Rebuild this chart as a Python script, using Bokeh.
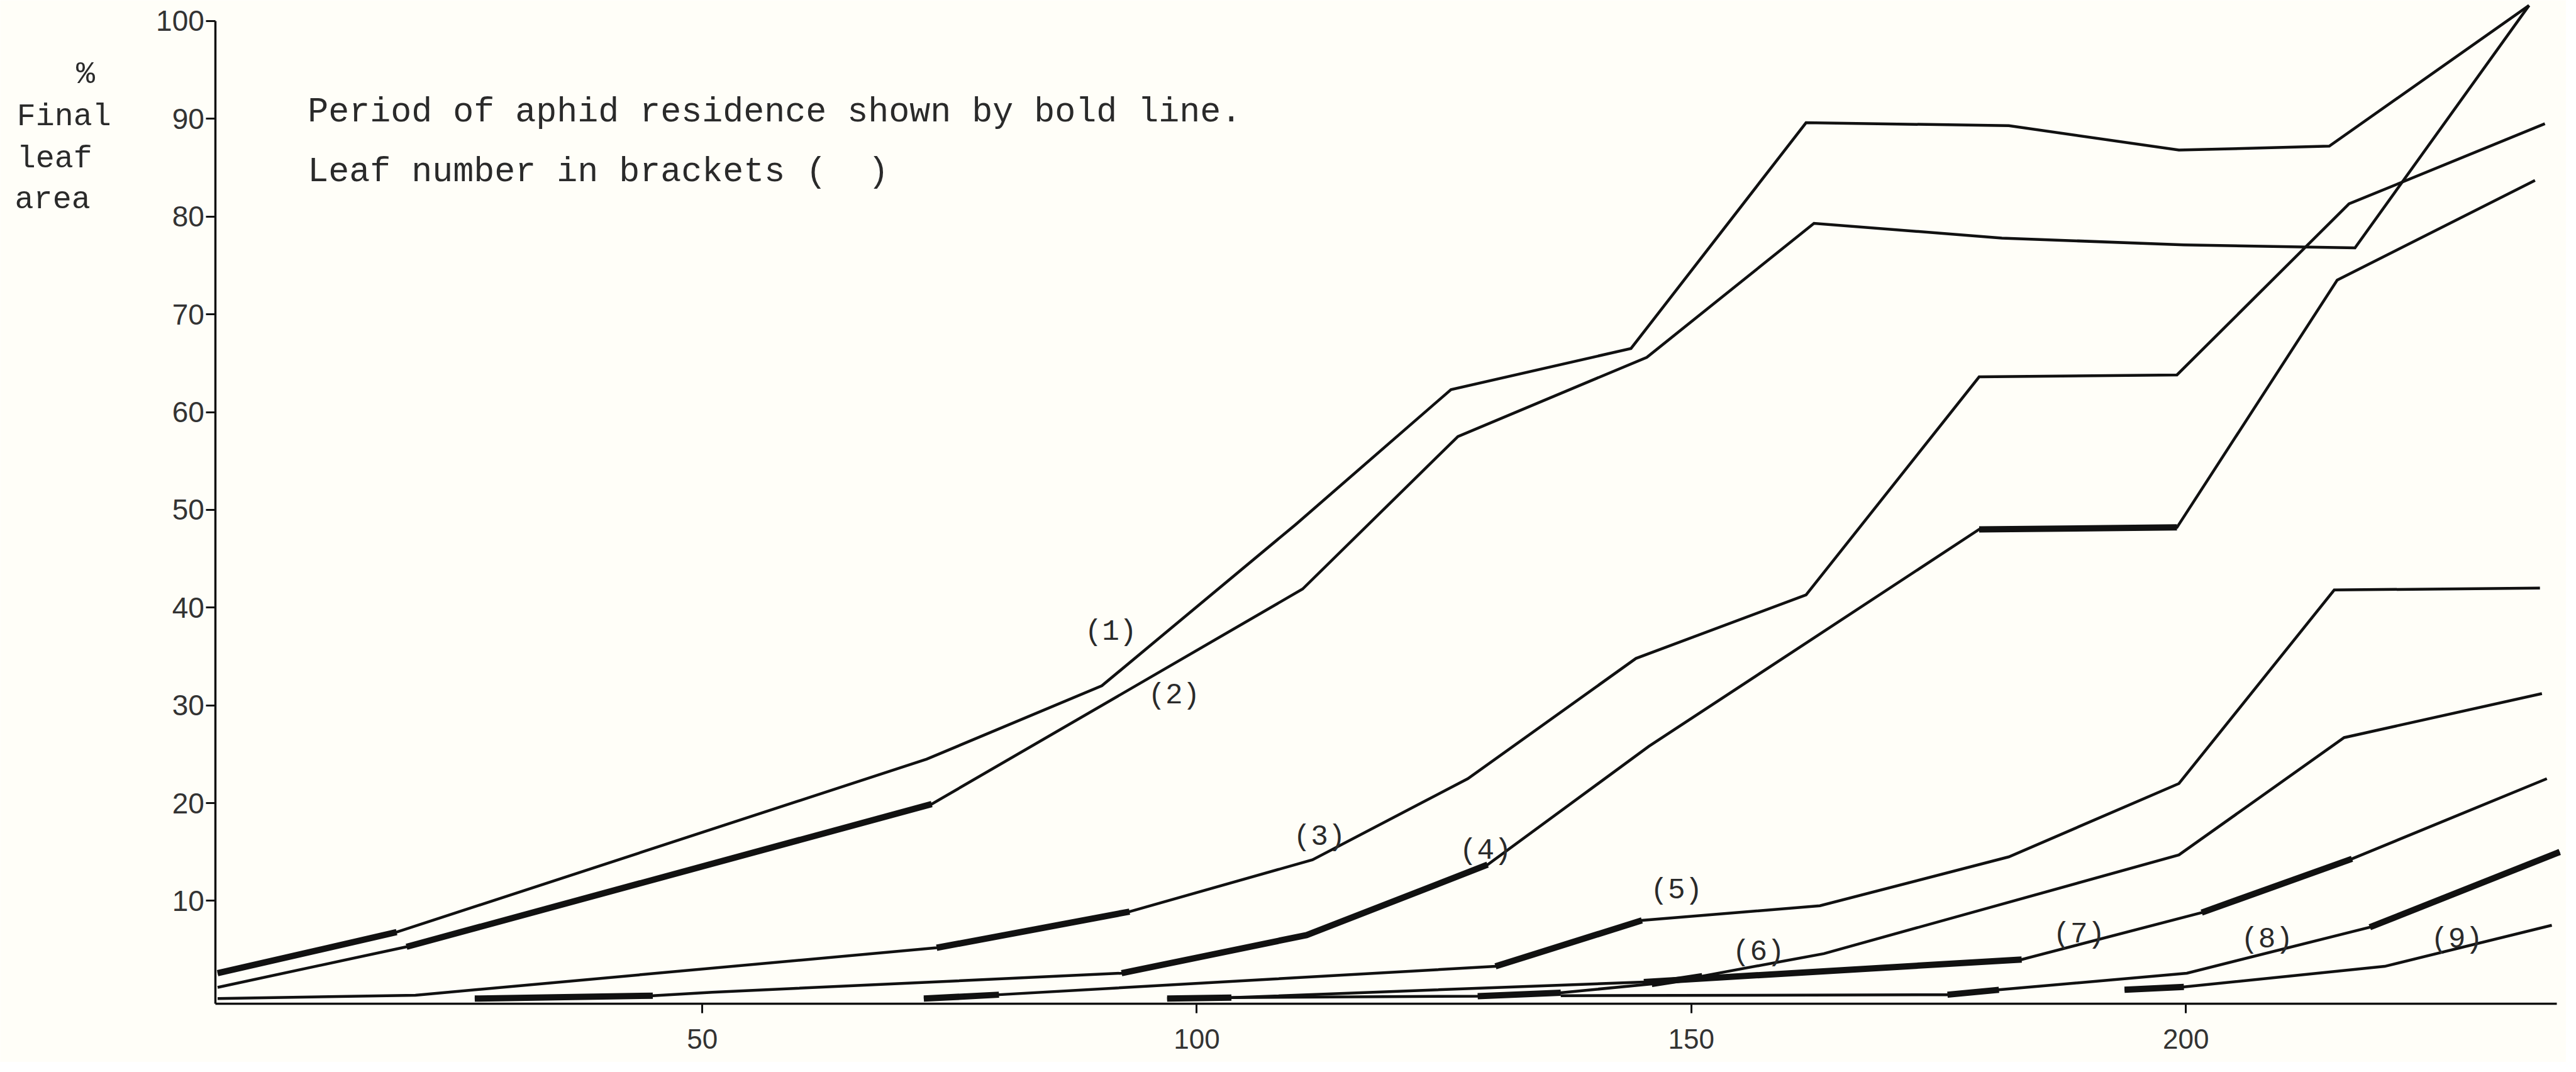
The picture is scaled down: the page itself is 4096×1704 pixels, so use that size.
from bokeh.plotting import figure
from bokeh.models import FixedTicker, Label
from bokeh.core.properties import value
from bokeh.embed import file_html
from bokeh.resources import INLINE

# ---- data (days on x, % of final leaf area on y) ----
leaf1_day = [1.0, 19.1, 72.7, 90.4, 110.0, 125.7, 143.9, 161.6, 182.1, 199.3, 214.5, 234.7]
leaf1_pct = [2.6, 6.8, 24.5, 32.0, 48.5, 62.3, 66.5, 89.6, 89.3, 86.8, 87.2, 101.6]
leaf1_bold = [(0, 1)]

leaf2_day = [1.0, 20.1, 73.2, 110.7, 126.4, 145.5, 162.4, 181.4, 199.8, 217.1, 234.7]
leaf2_pct = [1.15, 5.3, 19.9, 41.9, 57.5, 65.6, 79.3, 77.8, 77.1, 76.8, 101.6]
leaf2_bold = [(1, 2)]

leaf3_day = [1.0, 21.0, 73.7, 93.2, 111.7, 127.4, 144.4, 161.6, 179.1, 199.1, 216.5, 236.3]
leaf3_pct = [0.0, 0.35, 5.2, 8.9, 14.2, 22.5, 34.8, 41.3, 63.6, 63.8, 81.3, 89.5]
leaf3_bold = [(2, 3)]

leaf4_day = [27.0, 45.0, 51.0, 92.4, 111.1, 129.4, 145.7, 179.1, 199.1, 215.3, 235.3]
leaf4_pct = [0.0, 0.3, 0.65, 2.6, 6.5, 13.7, 25.8, 48.0, 48.2, 73.5, 83.7]
leaf4_bold = [(0, 1), (3, 5), (7, 8)]

leaf5_day = [72.4, 80.0, 107.7, 130.2, 145.0, 163.0, 182.1, 199.3, 215.0, 235.8]
leaf5_pct = [0.0, 0.4, 2.0, 3.3, 8.0, 9.5, 14.5, 22.0, 41.8, 42.0]
leaf5_bold = [(0, 1), (3, 4)]

leaf6_day = [97.0, 103.5, 128.4, 136.8, 146.0, 151.1, 163.4, 199.3, 216.0, 236.0]
leaf6_pct = [0.0, 0.1, 0.25, 0.6, 1.5, 2.3, 4.6, 14.7, 26.7, 31.2]
leaf6_bold = [(0, 1), (2, 3), (4, 5)]

leaf7_day = [103.5, 145.2, 183.4, 201.6, 216.8, 236.5]
leaf7_pct = [0.1, 1.7, 4.0, 8.8, 14.3, 22.5]
leaf7_bold = [(1, 2), (3, 4)]

leaf8_day = [136.8, 175.9, 181.1, 200.1, 218.6, 237.8]
leaf8_pct = [0.3, 0.4, 0.9, 2.6, 7.3, 15.0]
leaf8_bold = [(1, 2), (4, 5)]

leaf9_day = [193.8, 199.8, 220.1, 237.0]
leaf9_pct = [0.9, 1.2, 3.3, 7.5]
leaf9_bold = [(0, 1)]

leaf_labels = ["(1)", "(2)", "(3)", "(4)", "(5)", "(6)", "(7)", "(8)", "(9)"]
label_day = [91.3, 97.7, 112.4, 129.2, 148.5, 156.8, 189.2, 208.2, 227.4]
label_pct = [37.5, 31.0, 16.5, 15.1, 11.0, 4.7, 6.5, 6.0, 6.0]

x_ticks = [50, 100, 150, 200]
y_ticks = [10, 20, 30, 40, 50, 60, 70, 80, 90, 100]

title_lines = ["%", "Final", "leaf", "area"]
title_x = [-13.3, -19.3, -19.3, -19.5]
title_y = [94.5, 90.2, 85.9, 81.7]

note_lines = ["Period of aphid residence shown by bold line.",
              "Leaf number in brackets (\u00a0\u00a0)"]
note_x = [10.1, 10.1]
note_y = [90.65, 84.55]

leaves = [
    (leaf1_day, leaf1_pct, leaf1_bold),
    (leaf2_day, leaf2_pct, leaf2_bold),
    (leaf3_day, leaf3_pct, leaf3_bold),
    (leaf4_day, leaf4_pct, leaf4_bold),
    (leaf5_day, leaf5_pct, leaf5_bold),
    (leaf6_day, leaf6_pct, leaf6_bold),
    (leaf7_day, leaf7_pct, leaf7_bold),
    (leaf8_day, leaf8_pct, leaf8_bold),
    (leaf9_day, leaf9_pct, leaf9_bold),
]

BG = "#fffef8"
INK = "#111111"
TXT = "#2a2a2a"

X_AXIS_AT = -0.5   # value where the day axis is drawn
Y_AXIS_AT = 0.8    # day where the % axis is drawn

p = figure(width=4080, height=1688,
           x_range=(-20.97, 238.46), y_range=(-6.51, 102.12),
           output_backend="svg", toolbar_location=None,
           min_border_left=0, min_border_right=0,
           min_border_top=0, min_border_bottom=0)
p.background_fill_color = BG
p.border_fill_color = BG
p.outline_line_color = None
p.grid.visible = False

for xs, ys, bold in leaves:
    p.line(xs, ys, line_width=4.5, line_color=INK, line_join="miter")
    for i0, i1 in bold:
        p.line(xs[i0:i1 + 1], ys[i0:i1 + 1], line_width=10,
               line_color=INK, line_cap="butt", line_join="miter")

p.text(x=label_day, y=label_pct, text=leaf_labels,
       text_font=value("Liberation Mono"), text_font_size="46px",
       text_color=TXT, text_align="center", text_baseline="middle")

# axes
p.xaxis.ticker = FixedTicker(ticks=x_ticks)
p.yaxis.ticker = FixedTicker(ticks=y_ticks)
p.xaxis.bounds = (Y_AXIS_AT, 237.5)
p.yaxis.bounds = (X_AXIS_AT, 100)
p.xaxis.fixed_location = X_AXIS_AT
p.yaxis.fixed_location = Y_AXIS_AT
for ax in (p.xaxis[0], p.yaxis[0]):
    ax.axis_line_width = 3.5
    ax.axis_line_color = INK
    ax.major_tick_line_width = 3
    ax.major_tick_line_color = INK
    ax.major_tick_in = 0
    ax.major_tick_out = 15
    ax.minor_tick_line_color = None
    ax.major_label_text_font = "Liberation Sans"
    ax.major_label_text_font_size = "46px"
    ax.major_label_text_color = "#333333"
p.xaxis.major_label_text_font_size = "44px"
p.xaxis.major_label_standoff = 26
p.yaxis.major_label_standoff = 3

for t, x, y in zip(title_lines, title_x, title_y):
    p.add_layout(Label(x=x, y=y, text=t, text_font="Liberation Mono",
                       text_font_size="50px", text_color=TXT,
                       text_baseline="alphabetic", text_align="left"))

for t, x, y in zip(note_lines, note_x, note_y):
    p.add_layout(Label(x=x, y=y, text=t, text_font="Liberation Mono",
                       text_font_size="55px", text_color=TXT,
                       text_baseline="alphabetic", text_align="left"))

open("out.html", "w").write(file_html(p, INLINE))
